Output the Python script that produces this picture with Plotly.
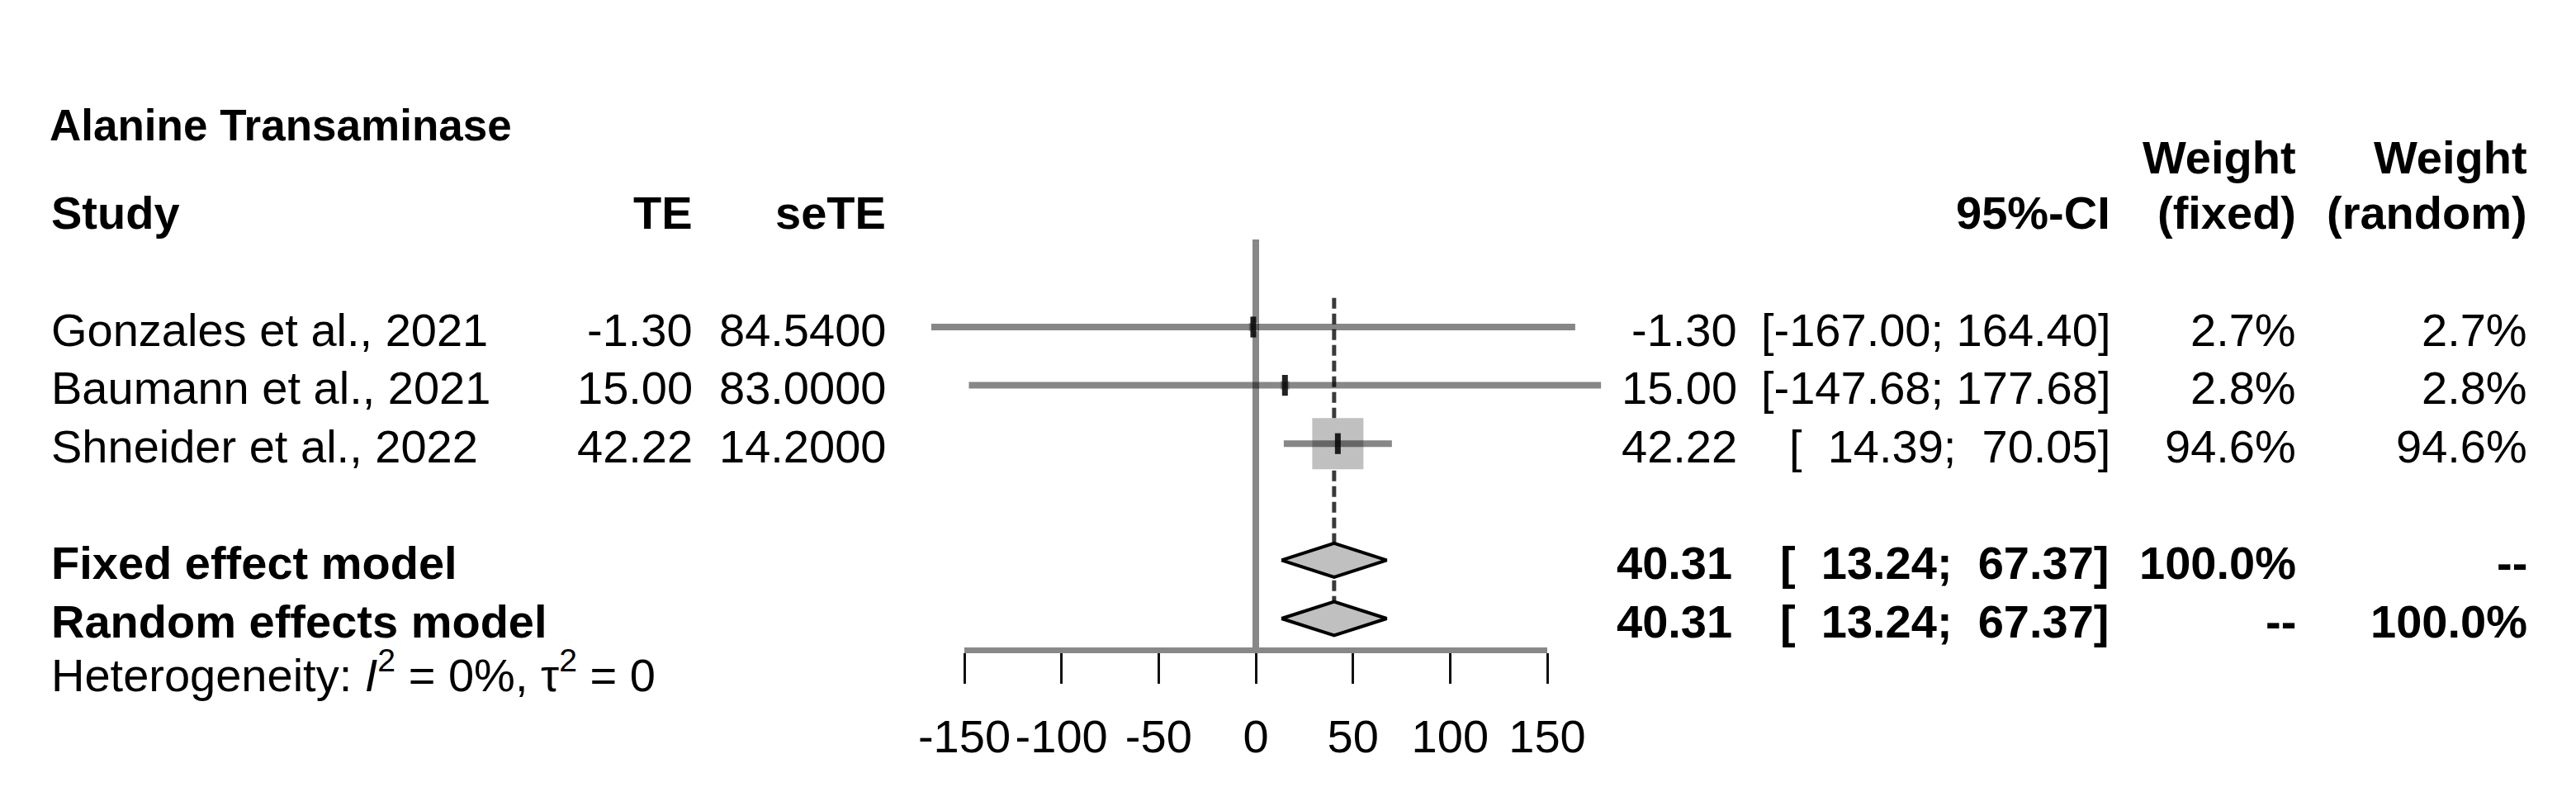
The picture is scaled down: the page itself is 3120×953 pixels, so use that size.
import plotly.graph_objects as go

# data
studies = ["Gonzales et al., 2021", "Baumann et al., 2021", "Shneider et al., 2022"]
te = [-1.30, 15.00, 42.22]
se_te = [84.54, 83.00, 14.20]
ci_low = [-167.00, -147.68, 14.39]
ci_high = [164.40, 177.68, 70.05]
w_fixed = [2.7, 2.8, 94.6]
w_random = [2.7, 2.8, 94.6]

models = ["Fixed effect model", "Random effects model"]
pooled_te = [40.31, 40.31]
pooled_low = [13.24, 13.24]
pooled_high = [67.37, 67.37]
pooled_w_fixed = ["100.0%", "--"]
pooled_w_random = ["--", "100.0%"]

i2 = 0
tau2 = 0
ticks = [-150, -100, -50, 0, 50, 100, 150]
title = "Alanine Transaminase"

# page geometry (pixels in the 3120x953 window)
W, H = 3120, 953
OFF = 8                      # default body margin of the html page
FIG_W, FIG_H = W - 2 * OFF, H - 2 * OFF
ZERO_PX = 1521
PX_PER_UNIT = 706 / 300
ROW1_PX = 396
ROW_PX = 70.6
AXIS_PX = 784
FONT = "Liberation Sans, Arial, Helvetica, sans-serif"
FS = 56

LINE_GREY = "#888888"
CI_COL = "rgba(0,0,0,0.47)"
SQ_GREY = "#c0c0c0"


def px_x(x):
    return (x - OFF) / FIG_W


def px_y(y):
    return 1 - (y - OFF) / FIG_H


def row_of(y):
    return (y - ROW1_PX) / ROW_PX + 1


study_rows = [1, 2, 3]
model_rows = [5, 6]
axis_row = row_of(AXIS_PX)
top_row = row_of(OFF)

fig = go.Figure()

# zero line on the visible axis
fig.add_trace(go.Scatter(x=[0, 0], y=[-0.5, axis_row], mode="lines",
                         line=dict(color=LINE_GREY, width=8),
                         xaxis="x", yaxis="y", hoverinfo="skip"))

# dashed line at the pooled estimate
fig.add_trace(go.Scatter(x=[pooled_te[0], pooled_te[0]], y=[0.5, 6.2], mode="lines",
                         line=dict(color="#3a3a3a", width=5, dash="13px,6px"),
                         xaxis="x2", yaxis="y", hoverinfo="skip"))

# squares sized by weight
max_w = max(w_fixed)
fig.add_trace(go.Scatter(x=te, y=study_rows, mode="markers",
                         marker=dict(symbol="square", color=SQ_GREY, opacity=1,
                                     size=[62 * (w / max_w) ** 0.5 for w in w_fixed],
                                     line=dict(width=0)),
                         xaxis="x2", yaxis="y", hoverinfo="skip"))

# confidence intervals
for lo, hi, r in zip(ci_low, ci_high, study_rows):
    fig.add_trace(go.Scatter(x=[lo, hi], y=[r, r], mode="lines",
                             line=dict(color=CI_COL, width=8),
                             xaxis="x2", yaxis="y", hoverinfo="skip"))

# point estimate marks
fig.add_trace(go.Scatter(x=te, y=study_rows, mode="markers",
                         marker=dict(symbol="line-ns", size=18, opacity=1,
                                     line=dict(color="rgba(10,10,10,0.9)", width=7)),
                         xaxis="x2", yaxis="y", hoverinfo="skip"))

# diamonds
dh = 0.29
for est, lo, hi, r in zip(pooled_te, pooled_low, pooled_high, model_rows):
    fig.add_trace(go.Scatter(x=[lo, est, hi, est, lo], y=[r, r - dh, r, r + dh, r],
                             mode="lines", fill="toself", fillcolor=SQ_GREY,
                             line=dict(color="black", width=4),
                             xaxis="x2", yaxis="y", hoverinfo="skip"))


def txt(x_px, row, s, anchor="right", bold=False, size=FS):
    if bold:
        s = "<b>" + s + "</b>"
    y_px = ROW1_PX + (row - 1) * ROW_PX + 3
    fig.add_annotation(x=px_x(x_px), y=px_y(y_px), xref="paper", yref="paper", text=s,
                       showarrow=False, xanchor=anchor, yanchor="middle",
                       font=dict(family=FONT, size=size, color="black"))


def ci_str(lo, hi):
    return f"[{lo:7.2f}; {hi:6.2f}]".replace(" ", "\u00a0")


# headers
txt(58, -2.5, title, "left", bold=True, size=53)
txt(60, -1, "Study", "left", bold=True)
txt(841, -1, "TE", bold=True)
txt(1075, -1, "seTE", bold=True)
txt(2558, -1, "95%-CI", bold=True)
txt(2783, -1.95, "Weight", bold=True)
txt(3063, -1.95, "Weight", bold=True)
txt(2783, -1, "(fixed)", bold=True)
txt(3063, -1, "(random)", bold=True)

# study rows
for i, r in enumerate(study_rows):
    txt(60, r, studies[i], "left")
    txt(841, r, f"{te[i]:.2f}")
    txt(1075, r, f"{se_te[i]:.4f}")
    txt(2106, r, f"{te[i]:.2f}")
    txt(2558, r, ci_str(ci_low[i], ci_high[i]))
    txt(2783, r, f"{w_fixed[i]:.1f}%")
    txt(3063, r, f"{w_random[i]:.1f}%")

# pooled rows
for i, r in enumerate(model_rows):
    txt(60, r, models[i], "left", bold=True)
    txt(2100, r, f"{pooled_te[i]:.2f}", bold=True)
    txt(2556, r, ci_str(pooled_low[i], pooled_high[i]), bold=True)
    txt(2783, r, pooled_w_fixed[i], bold=True)
    txt(3063, r, pooled_w_random[i], bold=True)

txt(60, 6.87, f"Heterogeneity: <i>I</i><sup>2</sup> = {i2}%, τ<sup>2</sup> = {tau2}", "left")

fig.update_layout(
    width=FIG_W, height=FIG_H, autosize=False,
    margin=dict(l=0, r=0, t=0, b=0, pad=0, autoexpand=False),
    paper_bgcolor="white", plot_bgcolor="rgba(0,0,0,0)",
    showlegend=False,
    xaxis=dict(domain=[px_x(ZERO_PX + ticks[0] * PX_PER_UNIT),
                       px_x(ZERO_PX + ticks[-1] * PX_PER_UNIT)],
               range=[ticks[0], ticks[-1]], anchor="y",
               tickvals=ticks, ticktext=[str(t) for t in ticks], tickangle=0,
               ticks="outside", ticklen=37, tickwidth=3, tickcolor="#111111",
               ticklabelstandoff=16,
               showline=True, linecolor=LINE_GREY, linewidth=7,
               showgrid=False, zeroline=False, automargin=False,
               tickfont=dict(family=FONT, size=FS, color="black")),
    xaxis2=dict(domain=[0, 1], anchor="y",
                range=[(OFF - ZERO_PX) / PX_PER_UNIT, (W - OFF - ZERO_PX) / PX_PER_UNIT],
                visible=False, showgrid=False, zeroline=False),
    yaxis=dict(domain=[px_y(AXIS_PX), 1], range=[axis_row, top_row],
               anchor="x", visible=False, showgrid=False, zeroline=False,
               automargin=False),
)

fig.write_html("out.html", config={"displayModeBar": False})
